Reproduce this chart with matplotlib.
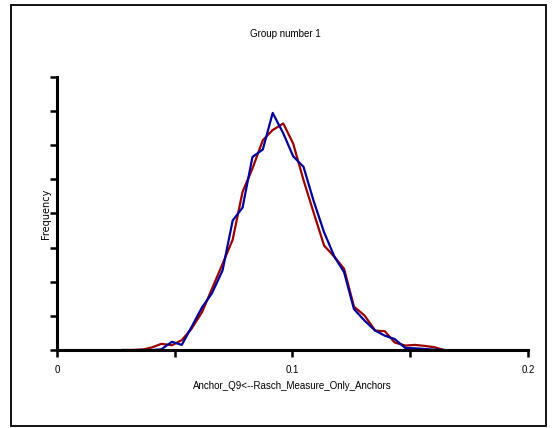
import matplotlib.pyplot as plt
from matplotlib.patches import Rectangle

# x positions of the frequency polygon points
x = [0.0278, 0.0323, 0.0368, 0.0405, 0.0443, 0.0488, 0.0530, 0.0571, 0.0616,
     0.0658, 0.0703, 0.0746, 0.0788, 0.0830, 0.0874, 0.0916, 0.0961, 0.1003,
     0.1047, 0.1089, 0.1134, 0.1179, 0.1219, 0.1261, 0.1306, 0.1351, 0.1392,
     0.1434, 0.1479, 0.1520, 0.1562, 0.1604, 0.1644]
# red series
y_red = [0, 0, 0.02, 0.08, 0.18, 0.14, 0.29, 0.62, 1.11, 1.79, 2.52, 3.23,
         4.63, 5.31, 6.14, 6.44, 6.63, 6.04, 4.97, 4.04, 3.06, 2.72, 2.38,
         1.27, 1.01, 0.57, 0.55, 0.22, 0.13, 0.15, 0.12, 0.08, 0]
# blue series
y_blue = [0, 0, 0, 0, 0.02, 0.24, 0.15, 0.67, 1.25, 1.66, 2.33, 3.79, 4.17,
          5.65, 5.87, 6.94, 6.34, 5.67, 5.36, 4.38, 3.45, 2.72, 2.28, 1.20,
          0.86, 0.57, 0.42, 0.32, 0.06, 0.05, 0.03, 0.01, 0]

xticks_major = [0, 0.1, 0.2]
xtick_labels = ['0', '0.1', '0.2']
xticks_minor = [0.05, 0.15]
yticks = [0, 1, 2, 3, 4, 5, 6, 7, 8]

narrow = ['Liberation Sans Narrow', 'Liberation Sans', 'DejaVu Sans']

fig = plt.figure(figsize=(5.55, 4.28), dpi=100)
ax = fig.add_axes([0.1027, 0.1822, 0.8486, 0.6386])

ax.plot(x, y_red, color='#990000', lw=1.6)
ax.plot(x, y_blue, color='#000099', lw=1.6)

ax.set_xlim(0, 0.2)
ax.set_ylim(0, 8)
for s in ['top', 'right']:
    ax.spines[s].set_visible(False)
for s in ['left', 'bottom']:
    ax.spines[s].set_linewidth(2.2)
    ax.spines[s].set_color('black')

ax.set_xticks(xticks_major)
ax.set_xticklabels(xtick_labels, family=narrow, fontsize=7)
ax.set_xticks(xticks_minor, minor=True)
ax.set_yticks(yticks)
ax.set_yticklabels([])
ax.tick_params(which='both', direction='out', length=5, width=1.8)
ax.tick_params(axis='x', pad=6)

ax.set_xlabel('Anchor_Q9<--Rasch_Measure_Only_Anchors', family=narrow,
              fontsize=7, labelpad=4)
ax.set_ylabel('Frequency', fontsize=7, labelpad=-4)

fig.text(0.515, 0.92, 'Group number 1', ha='center', va='center',
         family=narrow, fontsize=7)

# outer frame
fig.patches.append(Rectangle((0.019, 0.005), 0.964, 0.983,
                             transform=fig.transFigure, fill=False,
                             lw=1.3, edgecolor='black'))

plt.savefig('out.png', dpi=100)
